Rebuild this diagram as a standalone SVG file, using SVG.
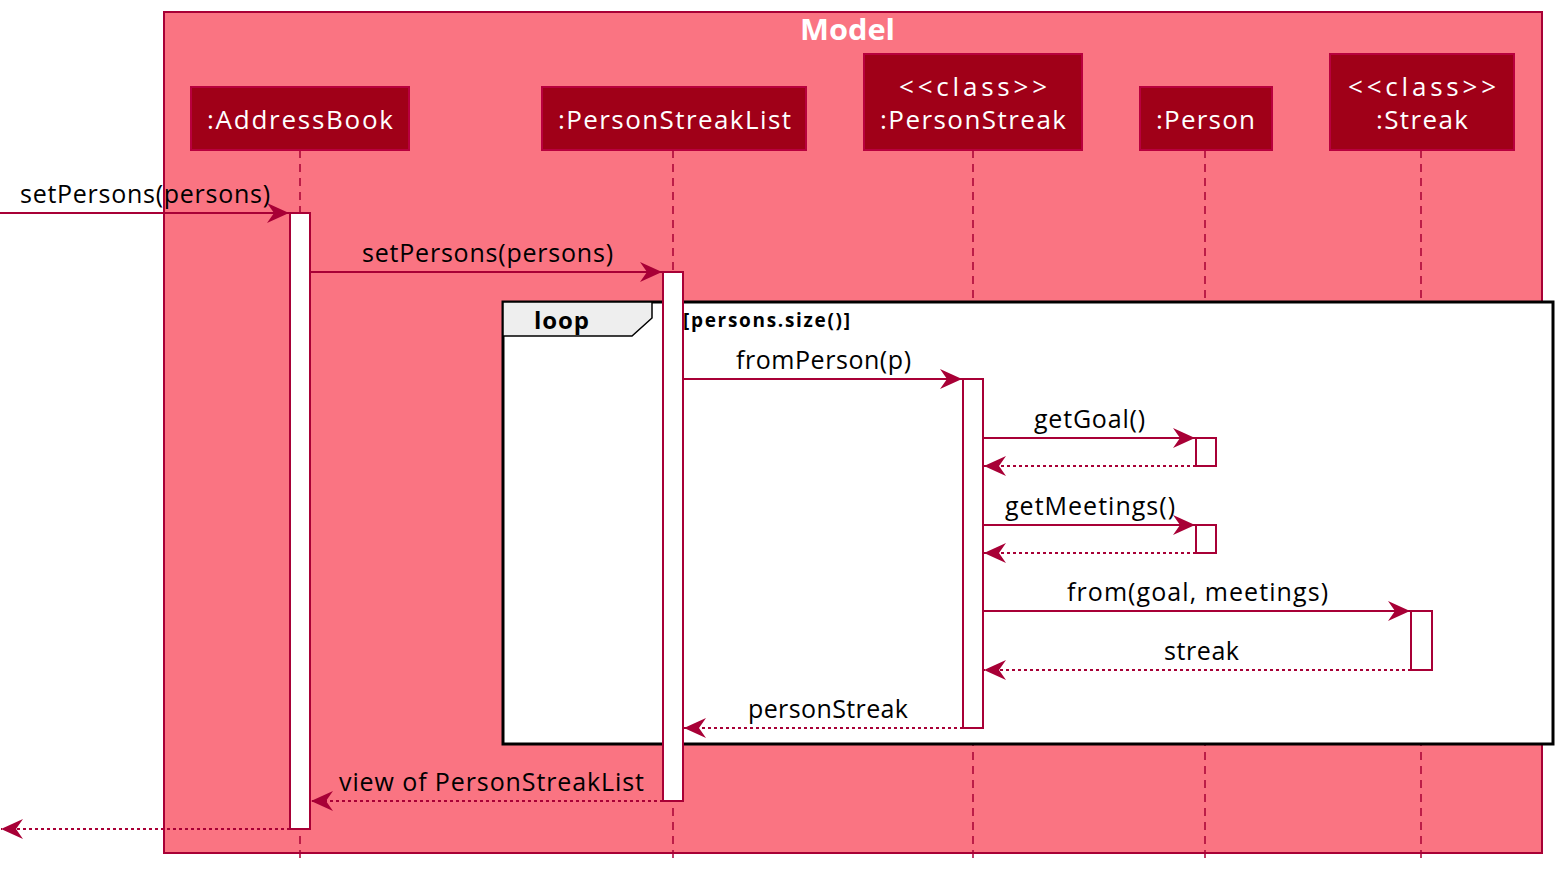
<svg xmlns="http://www.w3.org/2000/svg" width="1563" height="877" viewBox="0 0 1563 877">
<defs>
<style>
.t{font-family:"Open Sans","DejaVu Sans",sans-serif;font-size:25px;fill:#000}
.pt{font-family:"Open Sans","DejaVu Sans",sans-serif;font-size:26px;fill:#fff}
.part{fill:#A00018;stroke:#B8003E;stroke-width:2}
.life{stroke:#A80036;stroke-width:1.5;stroke-dasharray:8,6;fill:none}
.act{fill:#fff;stroke:#A80036;stroke-width:2}
.msg{stroke:#A80036;stroke-width:2;fill:none}
.ret{stroke:#A80036;stroke-width:2;fill:none;stroke-dasharray:3,3}
</style>
<marker id="ah" markerUnits="userSpaceOnUse" markerWidth="30" markerHeight="30" viewBox="-25 -15 30 30" refX="0" refY="0" orient="auto">
<path d="M0,0 L-22,-10 L-15,0 L-22,10 Z" fill="#A80036"/>
</marker>
</defs>
<g id="model">
<rect x="164" y="12" width="1378" height="841" fill="#FA7482" stroke="#A80036" stroke-width="2"/>
<text x="800" y="40" font-family="'Open Sans',sans-serif" font-size="28" font-weight="bold" fill="#fff" textLength="95" lengthAdjust="spacingAndGlyphs">Model</text>
</g>
<g id="lifelines">
<line class="life" x1="300" y1="150" x2="300" y2="862"/>
<line class="life" x1="673" y1="150" x2="673" y2="862"/>
<line class="life" x1="973" y1="150" x2="973" y2="862"/>
<line class="life" x1="1205" y1="150" x2="1205" y2="862"/>
<line class="life" x1="1421" y1="150" x2="1421" y2="862"/>
</g>
<g id="p-addressbook">
<rect class="part" x="191" y="87" width="218" height="63"/>
<text class="pt" x="207" y="129" textLength="186">:AddressBook</text>
</g>
<g id="p-personstreaklist">
<rect class="part" x="542" y="87" width="264" height="63"/>
<text class="pt" x="558" y="129" textLength="233">:PersonStreakList</text>
</g>
<g id="p-personstreak">
<rect class="part" x="864" y="54" width="218" height="96"/>
<text class="pt" x="899" y="96" textLength="148">&lt;&lt;class&gt;&gt;</text>
<text class="pt" x="880" y="129" textLength="186">:PersonStreak</text>
</g>
<g id="p-person">
<rect class="part" x="1140" y="87" width="132" height="63"/>
<text class="pt" x="1156" y="129" textLength="99">:Person</text>
</g>
<g id="p-streak">
<rect class="part" x="1330" y="54" width="184" height="96"/>
<text class="pt" x="1348" y="96" textLength="148">&lt;&lt;class&gt;&gt;</text>
<text class="pt" x="1376" y="129" textLength="92">:Streak</text>
</g>
<g id="loop">
<rect x="503" y="302" width="1050" height="442" fill="#fff" stroke="#000" stroke-width="3"/>
<path d="M503,302 L652,302 L652,318 L632,336 L503,336 Z" fill="#EEEEEE" stroke="#000" stroke-width="1.5"/>
<text x="534" y="329" font-family="'Open Sans',sans-serif" font-size="24" font-weight="bold" textLength="55">loop</text>
<text x="683" y="327" font-family="'Open Sans',sans-serif" font-size="19" font-weight="bold" textLength="167">[persons.size()]</text>
</g>
<g id="activations">
<rect class="act" x="290" y="213" width="20" height="616"/>
<rect class="act" x="663" y="272" width="20" height="529"/>
<rect class="act" x="963" y="379" width="20" height="349"/>
<rect class="act" x="1196" y="438" width="20" height="28"/>
<rect class="act" x="1196" y="525" width="20" height="28"/>
<rect class="act" x="1411" y="611" width="21" height="59"/>
</g>
<g id="connectors">
<line class="msg" x1="0" y1="213" x2="289" y2="213" marker-end="url(#ah)"/>
<line class="msg" x1="310" y1="272" x2="662" y2="272" marker-end="url(#ah)"/>
<line class="msg" x1="683" y1="379" x2="962" y2="379" marker-end="url(#ah)"/>
<line class="msg" x1="983" y1="438" x2="1195" y2="438" marker-end="url(#ah)"/>
<line class="ret" x1="1196" y1="466" x2="984" y2="466" marker-end="url(#ah)"/>
<line class="msg" x1="983" y1="525" x2="1195" y2="525" marker-end="url(#ah)"/>
<line class="ret" x1="1196" y1="553" x2="984" y2="553" marker-end="url(#ah)"/>
<line class="msg" x1="983" y1="611" x2="1410" y2="611" marker-end="url(#ah)"/>
<line class="ret" x1="1411" y1="670" x2="984" y2="670" marker-end="url(#ah)"/>
<line class="ret" x1="963" y1="728" x2="684" y2="728" marker-end="url(#ah)"/>
<line class="ret" x1="663" y1="801" x2="311" y2="801" marker-end="url(#ah)"/>
<line class="ret" x1="290" y1="829" x2="1" y2="829" marker-end="url(#ah)"/>
</g>
<g id="labels">
<text class="t" x="20" y="203" textLength="250">setPersons(persons)</text>
<text class="t" x="362" y="262" textLength="251">setPersons(persons)</text>
<text class="t" x="736" y="369" textLength="175">fromPerson(p)</text>
<text class="t" x="1034" y="428" textLength="111">getGoal()</text>
<text class="t" x="1005" y="515" textLength="170">getMeetings()</text>
<text class="t" x="1067" y="601" textLength="261">from(goal, meetings)</text>
<text class="t" x="1164" y="660" textLength="75">streak</text>
<text class="t" x="748" y="718" textLength="160">personStreak</text>
<text class="t" x="339" y="791" textLength="305">view of PersonStreakList</text>
</g>
</svg>
